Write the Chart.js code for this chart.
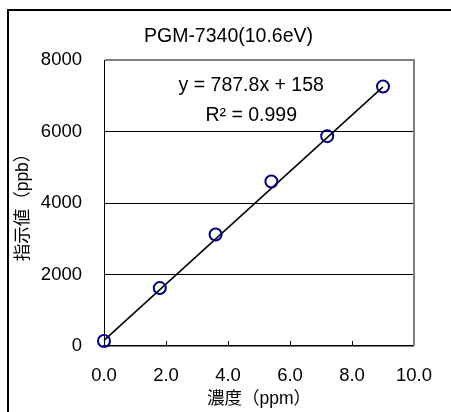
<!DOCTYPE html>
<html>
<head>
<meta charset="utf-8">
<script src="https://cdn.jsdelivr.net/npm/chart.js@4/dist/chart.umd.min.js"></script>
<style>
  body { margin: 0; background: #fff; }
  canvas { display: block; }
</style>
</head>
<body>
<canvas id="chart-calibracao" width="451" height="412"></canvas>
<script>
// dados
const concentracoes = [0.0, 1.8, 3.6, 5.4, 7.2, 9.0];
const leituras = [140, 1620, 3120, 4600, 5870, 7260];
const tendenciaX = [0.0, 9.0];
const inclinacao = 787.8;
const intercepto = 158;
const yTicks = [0, 2000, 4000, 6000, 8000];
const xTicks = [0, 2, 4, 6, 8, 10];

const titulo = 'PGM-7340(10.6eV)';
const equacao = 'y = 787.8x + 158';
const r2 = 'R² = 0.999';

const fonte = '"Liberation Sans", "Noto Sans CJK JP", sans-serif';

// moldura, título, equação e marcas do eixo x
const extras = {
    id: 'extras',
    beforeDraw(chart) {
        const c = chart.ctx;
        c.save();
        c.fillStyle = '#fff';
        c.fillRect(0, 0, chart.width, chart.height);
        c.strokeStyle = '#000';
        c.lineWidth = 2;
        c.strokeRect(8, 10, 600, 600);
        c.restore();
    },
    afterDatasetsDraw(chart) {
        const c = chart.ctx;
        const a = chart.chartArea;
        const x = chart.scales.x, y = chart.scales.y;
        c.save();
        // borda direita cinza
        c.strokeStyle = '#808080';
        c.lineWidth = 2;
        c.beginPath();
        c.moveTo(a.right, a.top - 1);
        c.lineTo(a.right, a.bottom);
        c.stroke();
        // marcas internas do eixo x
        c.strokeStyle = '#000';
        c.lineWidth = 1;
        xTicks.slice(1, -1).forEach(function(v) {
            const px = Math.round(x.getPixelForValue(v)) + 0.5;
            c.beginPath();
            c.moveTo(px, a.bottom);
            c.lineTo(px, a.bottom - 5);
            c.stroke();
        });
        c.fillStyle = '#000';
        c.textAlign = 'center';
        c.textBaseline = 'middle';
        c.font = '19.5px ' + fonte;
        c.fillText(titulo, chart.width / 2 + 3, 37);
        c.font = '19.5px ' + fonte;
        const ex = x.getPixelForValue(4.75);
        c.fillText(equacao, ex, y.getPixelForValue(7280));
        c.fillText(r2, ex, y.getPixelForValue(6440));
        c.restore();
    }
};

const ctx = document.getElementById('chart-calibracao').getContext('2d');
new Chart(ctx, {
    type: 'scatter',
    data: {
        datasets: [{
            label: 'tendência',
            type: 'line',
            data: tendenciaX.map(v => ({ x: v, y: inclinacao * v + intercepto })),
            borderColor: '#000',
            borderWidth: 1.5,
            pointRadius: 0,
            fill: false,
            order: 2
        }, {
            label: 'leituras',
            data: concentracoes.map((v, i) => ({ x: v, y: leituras[i] })),
            pointStyle: 'circle',
            pointRadius: 6,
            pointBorderWidth: 2,
            pointBorderColor: '#000080',
            pointBackgroundColor: 'rgba(0,0,0,0)',
            showLine: false,
            order: 1
        }]
    },
    options: {
        responsive: false,
        animation: false,
        clip: false,
        layout: { padding: { top: 60, right: 23, left: 0, bottom: 0 } },
        plugins: {
            legend: { display: false },
            tooltip: { enabled: false }
        },
        scales: {
            x: {
                type: 'linear',
                min: 0,
                max: 10,
                afterFit: function(s) { s.height = 66; },
                afterBuildTicks: function(s) { s.ticks = xTicks.map(v => ({ value: v })); },
                grid: { drawOnChartArea: false, drawTicks: false },
                border: { color: '#000', width: 1.5 },
                ticks: {
                    color: '#000',
                    padding: 19,
                    font: { family: fonte, size: 18.5 },
                    callback: v => v.toFixed(1)
                },
                title: {
                    display: true,
                    text: '濃度（ppm）',
                    color: '#000',
                    font: { family: fonte, size: 17.5 },
                    padding: { top: 0, bottom: 2 }
                }
            },
            y: {
                min: 0,
                max: 8000,
                afterFit: function(s) { s.width = 104; },
                afterBuildTicks: function(s) { s.ticks = yTicks.map(v => ({ value: v })); },
                grid: {
                    drawTicks: false,
                    color: c => c.tick.value === 0 ? 'rgba(0,0,0,0)' : (c.tick.value === 8000 ? '#808080' : '#000'),
                    lineWidth: c => c.tick.value === 8000 ? 2 : 1
                },
                border: { color: '#000', width: 1 },
                ticks: {
                    color: '#000',
                    padding: 22,
                    font: { family: fonte, size: 18.5 },
                    callback: v => String(v)
                },
                title: {
                    display: true,
                    text: '指示値（ppb）',
                    color: '#000',
                    font: { family: fonte, size: 17.5 },
                    padding: { top: 13, bottom: 0 }
                }
            }
        }
    },
    plugins: [extras]
});
</script>
</body>
</html>
